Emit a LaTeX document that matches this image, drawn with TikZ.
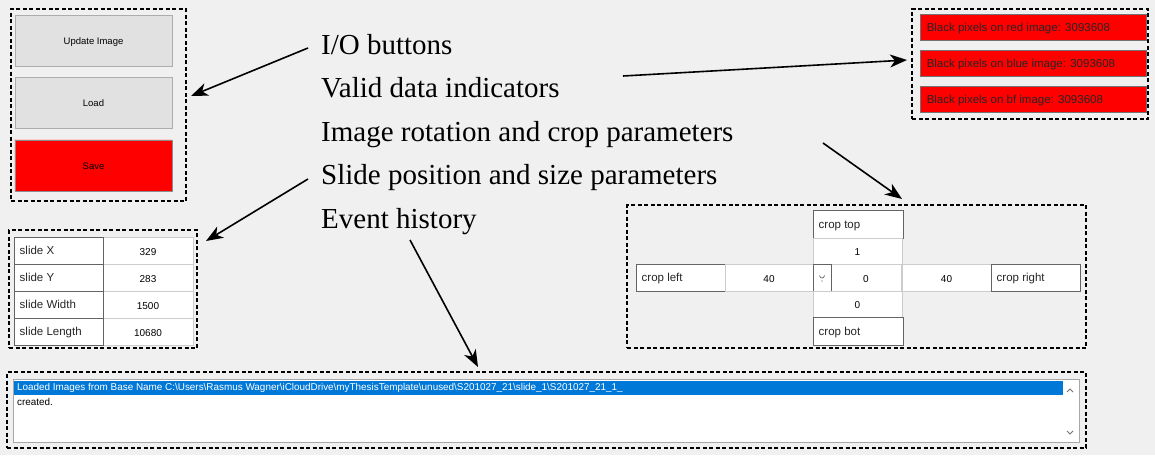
\documentclass[tikz,border=0pt]{standalone}
\usepackage{fontspec}
\setmainfont{Liberation Serif}
\newfontfamily\guifont{Liberation Sans}
\usetikzlibrary{arrows.meta}
\definecolor{bg}{HTML}{F0F0F0}
\definecolor{btngray}{HTML}{E1E1E1}
\definecolor{btnedge}{HTML}{ADADAD}
\definecolor{fieldedge}{HTML}{CCCCCC}
\definecolor{labeledge}{HTML}{646464}
\definecolor{selblue}{HTML}{0078D7}
\definecolor{listedge}{HTML}{A8A8A8}
\begin{document}
\begin{tikzpicture}[x=1pt,y=-1pt,
  grp/.style={draw=black, line width=1.4pt, dash pattern=on 4pt off 2.5pt, inner sep=0pt},
  btn/.style={draw=btnedge, fill=btngray, line width=0.9pt, inner sep=0pt, minimum width=157pt, minimum height=51pt, font=\guifont\fontsize{9.5}{11}\selectfont, text depth=0pt, text height=7pt},
  ind/.style={draw=black!55, fill=red, line width=0.9pt, inner sep=0pt, minimum height=26pt, minimum width=226pt},
  lbl/.style={draw=labeledge, fill=white, line width=1pt, inner sep=0pt, minimum height=27pt, minimum width=89pt},
  ltxt/.style={anchor=west, inner sep=0pt, yshift=-1.2pt, font=\guifont\fontsize{11.5}{13}\selectfont, text=black!85, text height=8.3pt, text depth=2.4pt},
  fld/.style={draw=fieldedge, fill=white, line width=0.8pt, inner sep=0pt, minimum height=26pt, text height=9pt, text depth=0pt, font=\guifont\fontsize{10}{12}\selectfont},
  big/.style={anchor=base west, inner sep=0pt, font=\fontsize{29}{30}\selectfont},
  arr/.style={-{Stealth[length=17pt,width=13pt,inset=5pt]}, line width=1.6pt},
  lst/.style={inner sep=0pt, anchor=west, font=\guifont\fontsize{9.9}{11}\selectfont}
]
\useasboundingbox[fill=bg] (0,0) rectangle (1155,455);

% ---- I/O buttons group ----
\node[grp, minimum width=175pt, minimum height=192pt] (g1) at (98.5,105) {};
\node[btn] (upd) at (93.5,40.5) {Update Image};
\node[btn] (load) at (93.5,102.5) {Load};
\node[btn, fill=red, draw=black!45] (save) at (93.5,165.5) {Save};
\draw[white!80!red, line width=1pt] (save.south west) |- (save.north east);

% ---- indicators group ----
\node[grp, minimum width=236pt, minimum height=110pt] (g2) at (1030,64) {};
\node[ind] (ired) at (1033,27) {};
\node[ind] (iblue) at (1033,63.5) {};
\node[ind] (ibf) at (1033,99.5) {};
\node[ltxt] (tred) at ([xshift=7pt]ired.west) {Black pixels on red image: 3093608};
\node[ltxt] (tblue) at ([xshift=7pt]iblue.west) {Black pixels on blue image: 3093608};
\node[ltxt] (tbf) at ([xshift=7pt]ibf.west) {Black pixels on bf image: 3093608};

% ---- crop group ----
\node[grp, minimum width=459pt, minimum height=143pt] (g3) at (856.5,276.5) {};
\node[lbl, minimum height=28pt, minimum width=90pt] (ctop) at (858,224) {};
\node[fld, minimum width=89pt] (vtop) at (857.5,251) {1};
\node[lbl] (cleft) at (680.5,277.5) {};
\node[fld, minimum width=88pt, minimum height=27pt] (vleft) at (769,277.5) {40};
\node[fld, minimum width=70pt, minimum height=27pt] (vmid) at (866,277.5) {0};
\node[draw=labeledge, fill=white, line width=0.9pt, minimum width=18pt, minimum height=27pt, inner sep=0pt] (spin) at (822,277.5) {};
\draw[black!70, line width=0.6pt] (819.5,275.5) .. controls (820,279) and (824,279) .. (824.5,275.5);
\fill[black!70] (822,281) circle (0.6pt);
\node[fld, minimum width=89pt, minimum height=27pt] (vright) at (946.5,277.5) {40};
\node[lbl] (cright) at (1035.5,277.5) {};
\node[fld, minimum width=89pt] (vbot) at (857.5,304) {0};
\node[lbl, minimum height=28pt, minimum width=90pt] (cbot) at (858,331) {};
\node[ltxt] (tctop) at ([xshift=6pt]ctop.west) {crop top};
\node[ltxt] (tcleft) at ([xshift=6pt]cleft.west) {crop left};
\node[ltxt] (tcright) at ([xshift=6pt]cright.west) {crop right};
\node[ltxt] (tcbot) at ([xshift=6pt]cbot.west) {crop bot};

% ---- slide group ----
\node[grp, minimum width=188pt, minimum height=118pt] (g4) at (103,289) {};
\node[fld, minimum width=90pt, minimum height=27pt] (vx) at (148,250.5) {329};
\node[fld, minimum width=90pt, minimum height=27pt] (vy) at (148,277.5) {283};
\node[fld, minimum width=90pt, minimum height=27pt] (vw) at (148,304.5) {1500};
\node[fld, minimum width=90pt, minimum height=27pt] (vl) at (148,331.5) {10680};
\node[lbl] (sx) at (58.5,250.5) {};
\node[lbl] (sy) at (58.5,277.5) {};
\node[lbl] (sw) at (58.5,304.5) {};
\node[lbl] (sl) at (58.5,331.5) {};
\node[ltxt] (tsx) at ([xshift=6pt]sx.west) {slide X};
\node[ltxt] (tsy) at ([xshift=6pt]sy.west) {slide Y};
\node[ltxt] (tsw) at ([xshift=6pt]sw.west) {slide Width};
\node[ltxt] (tsl) at ([xshift=6pt]sl.west) {slide Length};

% ---- event history group ----
\node[grp, minimum width=1079pt, minimum height=76pt] (g5) at (546.5,410) {};
\node[draw=listedge, fill=white, line width=1pt, minimum width=1066pt, minimum height=63pt, inner sep=0pt] (list) at (546,410.5) {};
\fill[selblue] (14,381) rectangle (1063,394.5);
\node[lst, text=white] (l1) at (17,388) {Loaded Images from Base Name C:\textbackslash Users\textbackslash Rasmus Wagner\textbackslash iCloudDrive\textbackslash myThesisTemplate\textbackslash unused\textbackslash S201027\_21\textbackslash slide\_1\textbackslash S201027\_21\_1\_};
\node[lst, text=black] (l2) at (17,401.5) {created.};
\draw[black!55, line width=0.8pt] (1067,392) -- (1070,389) -- (1073,392);
\draw[black!55, line width=0.8pt] (1067,431) -- (1070,434) -- (1073,431);

% ---- labels ----
\node[big] (t1) at (321,54) {I/O buttons};
\node[big] (t2) at (321,97.5) {Valid data indicators};
\node[big] (t3) at (321,141) {Image rotation and crop parameters};
\node[big] (t4) at (321,184.5) {Slide position and size parameters};
\node[big] (t5) at (321,228) {Event history};

% ---- arrows ----
\coordinate (a1s) at (308,48);   \coordinate (a1e) at (191,96);
\coordinate (a2s) at (623,76);   \coordinate (a2e) at (907,60);
\coordinate (a3s) at (823,143);  \coordinate (a3e) at (902,199);
\coordinate (a4s) at (308,179);  \coordinate (a4e) at (206,241);
\coordinate (a5s) at (410,240);  \coordinate (a5e) at (478,367);
\draw[arr] (a1s) -- (a1e);
\draw[arr] (a2s) -- (a2e);
\draw[arr] (a3s) -- (a3e);
\draw[arr] (a4s) -- (a4e);
\draw[arr] (a5s) -- (a5e);
\end{tikzpicture}
\end{document}
